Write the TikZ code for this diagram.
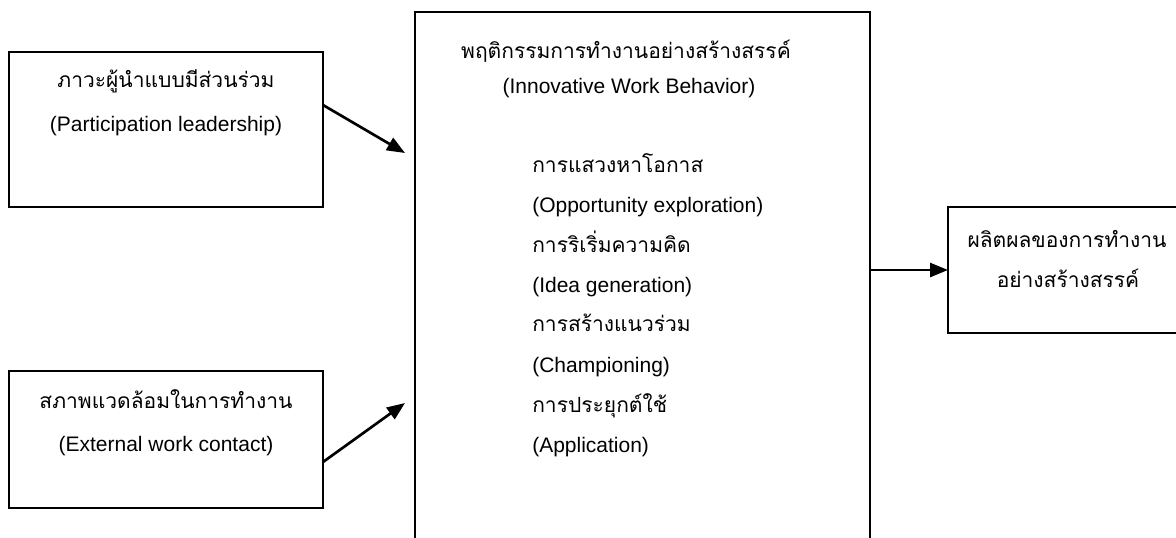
\documentclass[tikz,border=0pt]{standalone}
\usepackage{fontspec}
\setmainfont{Liberation Sans}
\newfontfamily\thai[Script=Thai]{Loma}
\usetikzlibrary{arrows.meta}
\tikzset{
  x=0.75pt, y=-0.75pt,
  box/.style={draw, line width=1.1pt, inner sep=0pt, outer sep=0pt, rectangle},
  en/.style={font=\fontsize{15.75pt}{18pt}\selectfont, inner sep=0pt, anchor=base},
  th/.style={font=\fontsize{15.75pt}{18pt}\selectfont\thai, inner sep=0pt, anchor=base},
  arr/.style={line width=2pt, -{Triangle[length=13.5pt,width=10.5pt]}},
}
\begin{document}
\begin{tikzpicture}
\useasboundingbox (0,0) rectangle (1176,537);
\clip (0,0) rectangle (1176,537);
% boxes
\node[box, minimum width=314*0.75pt, minimum height=155*0.75pt] (b1) at (166,129.5) {};
\node[box, minimum width=314*0.75pt, minimum height=137*0.75pt] (b2) at (166,439.5) {};
\node[box, minimum width=455*0.75pt, minimum height=568*0.75pt] (cb) at (642.5,296) {};
\node[box, minimum width=252*0.75pt, minimum height=126*0.75pt] (rb) at (1074,270) {};
% texts box 1
\node[th] (t1a) at (166,87) {ภาวะผู้นำแบบมีส่วนร่วม};
\node[en] (t1b) at (166,131) {(Participation leadership)};
% texts box 2
\node[th] (t2a) at (166,408) {สภาพแวดล้อมในการทำงาน};
\node[en] (t2b) at (166,451) {(External work contact)};
% central title
\node[th] (tca) at (626,58) {พฤติกรรมการทำงานอย่างสร้างสรรค์};
\node[en] (tcb) at (629,93) {(Innovative Work Behavior)};
% list
\node[th, anchor=base west] (l1) at (532,172) {การแสวงหาโอกาส};
\node[en, anchor=base west] (l2) at (532,212) {(Opportunity exploration)};
\node[th, anchor=base west] (l3) at (532,252) {การริเริ่มความคิด};
\node[en, anchor=base west] (l4) at (532,292) {(Idea generation)};
\node[th, anchor=base west] (l5) at (532,331) {การสร้างแนวร่วม};
\node[en, anchor=base west] (l6) at (532,372) {(Championing)};
\node[th, anchor=base west] (l7) at (532,412) {การประยุกต์ใช้};
\node[en, anchor=base west] (l8) at (532,452) {(Application)};
% right box texts
\node[th] (tra) at (1067,247) {ผลิตผลของการทำงาน};
\node[th] (trb) at (1068,287) {อย่างสร้างสรรค์};
% arrows
\coordinate (e1) at (405,153);
\coordinate (e2) at (405,403);
\draw[arr] (b1.east |- 0,105) -- (e1);
\draw[arr] (b2.east |- 0,462) -- (e2);
\draw[arr] (cb.east |- rb.west) -- (rb.west);
\end{tikzpicture}
\end{document}
